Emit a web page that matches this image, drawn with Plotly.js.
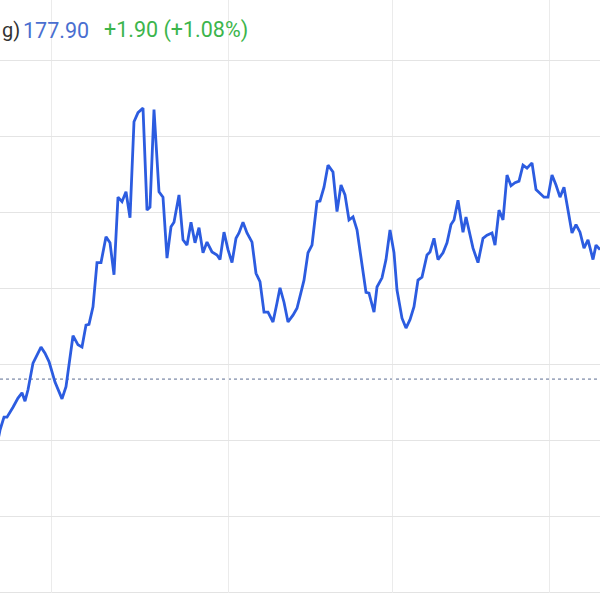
<!DOCTYPE html>
<html>
<head>
<meta charset="utf-8">
<script src="https://cdn.plot.ly/plotly-3.0.1.min.js"></script>
<style>html,body{margin:0;padding:0;background:#fff;}#chart{width:600px;height:600px;}</style>
</head>
<body>
<div id="chart"></div>
<script>
// time axis (arbitrary session units) and prices
const time = [-0.5, 0, 1, 1.75, 3.25, 4.5, 5.5, 6.25, 7, 8.25, 10.25, 11.25, 12.25, 13.75, 15.5, 16.5, 18.25, 19.5, 20.5, 21.5, 22.25, 23.25, 24.25, 25.25, 26.5, 27.5, 28.5, 29.5, 30.5, 31.5, 32.5, 33.5, 34.5, 35.75, 36.75, 37.5, 38.5, 39.75, 40.75, 41.75, 42.75, 43.5, 44.75, 45.75, 46.75, 47.75, 48.75, 49.75, 50.75, 51.75, 53, 54.25, 55, 56, 57, 58, 59, 59.75, 60.75, 61.75, 63, 64, 65, 66, 67, 68.25, 69.25, 70, 71, 72, 73.25, 74.25, 75.25, 76, 77, 78, 79.25, 80, 81, 82, 83.25, 84.25, 85.25, 86.25, 87.25, 88.25, 89.25, 90.25, 91.5, 92.25, 93.5, 94.25, 95.5, 96.5, 97.5, 98.5, 99.25, 100.5, 101.5, 102.5, 103.5, 104.5, 105.5, 106.75, 107.5, 108.5, 109.5, 110.75, 111.75, 112.75, 113.5, 114.5, 115.75, 116.5, 117.5, 118.25, 119.5, 120.75, 121.75, 123, 123.75, 124.75, 125.75, 126.75, 127.75, 128.75, 129.75, 130.75, 131.75, 133, 134, 135.25, 136, 137, 138, 139, 140, 141, 142, 143, 144, 145, 146, 147, 148.25, 149, 150];
const price = [175.01, 175.14, 175.31, 175.31, 175.44, 175.56, 175.63, 175.52, 175.67, 176.02, 176.23, 176.15, 176.04, 175.77, 175.55, 175.71, 176.38, 176.26, 176.23, 176.52, 176.53, 176.76, 177.34, 177.34, 177.68, 177.60, 177.18, 178.20, 178.14, 178.27, 177.93, 179.19, 179.31, 179.37, 178.03, 178.07, 179.35, 178.27, 178.20, 177.40, 177.81, 177.87, 178.23, 177.64, 177.57, 177.87, 177.60, 177.80, 177.47, 177.61, 177.48, 177.44, 177.38, 177.74, 177.51, 177.34, 177.66, 177.73, 177.87, 177.73, 177.61, 177.20, 177.09, 176.69, 176.69, 176.56, 176.81, 177.01, 176.82, 176.56, 176.65, 176.74, 176.95, 177.11, 177.47, 177.57, 178.14, 178.15, 178.33, 178.62, 178.53, 178.01, 178.36, 178.23, 177.90, 177.94, 177.77, 177.38, 176.95, 176.94, 176.69, 177.02, 177.14, 177.38, 177.77, 177.47, 176.98, 176.61, 176.48, 176.59, 176.76, 177.11, 177.15, 177.44, 177.48, 177.66, 177.38, 177.47, 177.60, 177.84, 177.90, 178.16, 177.74, 177.94, 177.70, 177.53, 177.34, 177.66, 177.70, 177.73, 177.57, 178.03, 177.90, 178.49, 178.35, 178.39, 178.41, 178.62, 178.58, 178.65, 178.30, 178.24, 178.20, 178.20, 178.49, 178.36, 178.20, 178.33, 178.03, 177.73, 177.84, 177.74, 177.53, 177.64, 177.38, 177.57, 177.51];
const previousRef = 175.81;
const priceTicks = [173, 174, 175, 176, 177, 178, 179, 180];
const timeTicks = [12.75, 57, 98, 137.25];
const headerLabel = "g)";
const headerPrice = "177.90";
const headerChange = "+1.90 (+1.08%)";

const trace = {
  x: time, y: price, type: 'scatter', mode: 'lines',
  line: {color: '#2c5ce0', width: 2.8},
  hoverinfo: 'skip'
};

const layout = {
  width: 600, height: 600,
  margin: {l: 0, r: 0, t: 0, b: 7},
  paper_bgcolor: '#ffffff', plot_bgcolor: '#ffffff',
  showlegend: false,
  font: {family: 'Roboto, "Liberation Sans", Arial, sans-serif'},
  xaxis: {
    range: [0, 150], tickvals: timeTicks, showticklabels: false,
    showgrid: true, gridcolor: '#ebebeb', gridwidth: 1,
    zeroline: false, showline: false, ticks: ''
  },
  yaxis: {
    range: [173, 180.79], tickvals: priceTicks, showticklabels: false,
    showgrid: true, gridcolor: '#e4e4e4', gridwidth: 1,
    zeroline: false, showline: false, ticks: ''
  },
  shapes: [
    {type: 'line', xref: 'paper', x0: 0, x1: 1, yref: 'y', y0: previousRef, y1: previousRef,
     line: {color: '#5c6d92', width: 1, dash: 'dot'}, layer: 'below'},
    {type: 'line', xref: 'paper', x0: 0, x1: 1, yref: 'y', y0: 173, y1: 173,
     line: {color: '#dadada', width: 1.5}, layer: 'below'}
  ],
  annotations: [
    {xref: 'paper', yref: 'paper', x: 0, y: 0.949, xanchor: 'left', yanchor: 'middle',
     text: headerLabel, showarrow: false, font: {size: 20, color: '#333333'}},
    {xref: 'paper', yref: 'paper', x: 21/600, y: 0.949, xanchor: 'left', yanchor: 'middle',
     text: headerPrice, showarrow: false, font: {size: 21.5, color: '#4a6fd0'}},
    {xref: 'paper', yref: 'paper', x: 102/600, y: 0.949, xanchor: 'left', yanchor: 'middle',
     text: headerChange, showarrow: false, font: {size: 21.5, color: '#3cb54c'}}
  ]
};

Plotly.newPlot('chart', [trace], layout, {staticPlot: true, displayModeBar: false});
</script>
</body>
</html>
